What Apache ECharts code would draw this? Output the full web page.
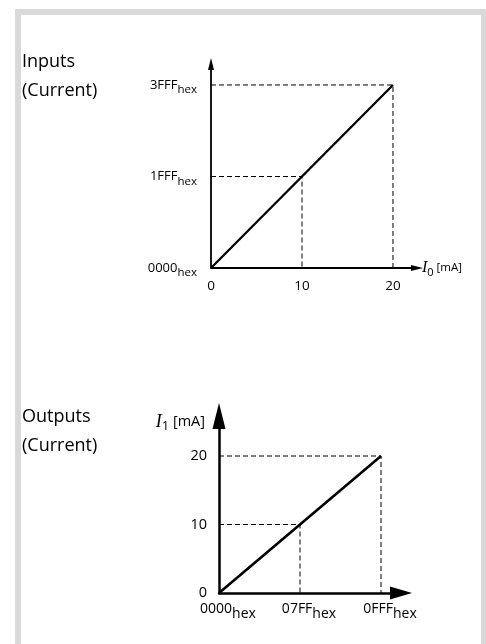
<!DOCTYPE html>
<html>
<head>
<meta charset="utf-8">
<script src="https://cdn.jsdelivr.net/npm/echarts@6/dist/echarts.min.js"></script>
<style>
  html, body { margin: 0; padding: 0; background: #fff; }
  #chart { width: 486px; height: 644px; }
</style>
</head>
<body>
<div id="chart"></div>
<script>
// Analog current inputs: 0–20 mA mapped to the code range 0000–3FFF hex
const inputCurrentMa = [0, 10, 20];
const inputCodeHex = ['0000', '1FFF', '3FFF'];
// Analog current outputs: code range 0000–0FFF hex mapped to 0–20 mA
const outputCodeHex = ['0000', '07FF', '0FFF'];
const outputCurrentMa = [0, 10, 20];

const inputCode = inputCodeHex.map(h => parseInt(h, 16));
const outputCode = outputCodeHex.map(h => parseInt(h, 16));

const hexOf = v => Math.round(v).toString(16).toUpperCase().padStart(4, '0');
const FONT = '"Open Sans", "Noto Sans", sans-serif';
const INK = '#000';
const FRAME = '#d9d9d9';

// Dashed guide from the y axis across to a point and down to the x axis
function guides(xs, ys) {
  const out = [];
  for (let i = 1; i < xs.length; i++) {
    out.push([[0, ys[i]], [xs[i], ys[i]], [xs[i], 0]]);
  }
  return out;
}

function hexRich(size, subSize, lh) {
  return {
    m: { fontFamily: FONT, fontSize: size, color: INK, lineHeight: lh, verticalAlign: 'middle' },
    s: { fontFamily: FONT, fontSize: subSize, color: INK, lineHeight: subSize + 2, verticalAlign: 'bottom' }
  };
}

const inGuides = guides(inputCurrentMa, inputCode);
const outGuides = guides(outputCode, outputCurrentMa);

const dashStyle = { color: INK, width: 1, type: [5, 3] };

const series = [];
inGuides.forEach(g => series.push({
  type: 'line', xAxisIndex: 0, yAxisIndex: 0, data: g, symbol: 'none',
  lineStyle: dashStyle, silent: true, z: 1
}));
outGuides.forEach(g => series.push({
  type: 'line', xAxisIndex: 1, yAxisIndex: 1, data: g, symbol: 'none',
  lineStyle: dashStyle, silent: true, z: 1
}));
series.push({
  type: 'line', xAxisIndex: 0, yAxisIndex: 0, symbol: 'none',
  data: inputCurrentMa.map((x, i) => [x, inputCode[i]]),
  lineStyle: { color: INK, width: 2.3 }, z: 3
});
series.push({
  type: 'line', xAxisIndex: 1, yAxisIndex: 1, symbol: 'none',
  data: outputCode.map((x, i) => [x, outputCurrentMa[i]]),
  lineStyle: { color: INK, width: 2.6 }, z: 3
});

const option = {
  animation: false,
  backgroundColor: '#fff',
  textStyle: { fontFamily: FONT },
  graphic: [
    // light grey page frame
    { type: 'rect', shape: { x: 15, y: 9, width: 471, height: 6 }, style: { fill: FRAME } },
    { type: 'rect', shape: { x: 15, y: 9, width: 6, height: 635 }, style: { fill: FRAME } },
    { type: 'rect', shape: { x: 481, y: 9, width: 5, height: 635 }, style: { fill: FRAME } },
    { type: 'text', left: 22, top: 47, style: { text: 'Inputs\n(Current)', font: '18px ' + FONT, fill: INK, lineHeight: 29 } },
    { type: 'text', left: 22, top: 402, style: { text: 'Outputs\n(Current)', font: '18px ' + FONT, fill: INK, lineHeight: 29 } }
  ],
  grid: [
    { left: 211, top: 64, width: 206, height: 204 },
    { left: 219, top: 416, width: 182, height: 177 }
  ],
  xAxis: [
    {
      gridIndex: 0, type: 'value', min: 0, max: 22.64,
      axisLine: { show: true, lineStyle: { color: INK, width: 1.8 }, symbol: ['none', 'triangle'], symbolSize: [6, 12] },
      axisTick: { show: false },
      splitLine: { show: false },
      axisLabel: { customValues: inputCurrentMa, color: INK, fontSize: 13.5, fontFamily: FONT, margin: 11 },
      name: '{i|I}{n|0}{u| [mA]}',
      nameLocation: 'end', nameGap: 5,
      nameTextStyle: {
        rich: {
          i: { fontFamily: '"Liberation Serif", serif', fontStyle: 'italic', fontSize: 16, color: INK, lineHeight: 20 },
          n: { fontFamily: FONT, fontSize: 11, color: INK, lineHeight: 12, verticalAlign: 'bottom' },
          u: { fontFamily: FONT, fontSize: 11.5, color: INK, lineHeight: 20 }
        }
      }
    },
    {
      gridIndex: 1, type: 'value', min: 0, max: 4600,
      axisLine: { show: true, lineStyle: { color: INK, width: 2.5 }, symbol: ['none', 'triangle'], symbolSize: [13, 22] },
      axisTick: { show: false },
      splitLine: { show: false },
      axisLabel: {
        customValues: outputCode, margin: 4, padding: [0, 0, 0, 18],
        formatter: v => `{m|${hexOf(v)}}{s|hex}`,
        rich: hexRich(14, 14, 24)
      }
    }
  ],
  yAxis: [
    {
      gridIndex: 0, type: 'value', min: 0, max: 18263,
      axisLine: { show: true, lineStyle: { color: INK, width: 1.8 }, symbol: ['none', 'triangle'], symbolSize: [6, 12] },
      axisTick: { show: false },
      splitLine: { show: false },
      axisLabel: {
        customValues: inputCode, margin: 14,
        formatter: v => `{m|${hexOf(v)}}{s|hex}`,
        rich: hexRich(13, 11.5, 22)
      }
    },
    {
      gridIndex: 1, type: 'value', min: 0, max: 25.84,
      axisLine: { show: true, lineStyle: { color: INK, width: 2.5 }, symbol: ['none', 'triangle'], symbolSize: [13, 26] },
      axisTick: { show: false },
      splitLine: { show: false },
      axisLabel: { customValues: outputCurrentMa, color: INK, fontSize: 14.5, fontFamily: FONT, margin: 12 },
      name: '{i|I}{n|1}{u| [mA]}',
      nameLocation: 'end', nameGap: -17,
      nameTextStyle: {
        align: 'right', padding: [0, 14, 0, 0],
        rich: {
          i: { fontFamily: '"Liberation Serif", serif', fontStyle: 'italic', fontSize: 18, color: INK, lineHeight: 22 },
          n: { fontFamily: FONT, fontSize: 13, color: INK, lineHeight: 14, verticalAlign: 'bottom' },
          u: { fontFamily: FONT, fontSize: 14.5, color: INK, lineHeight: 22 }
        }
      }
    }
  ],
  series
};

const chart = echarts.init(document.getElementById('chart'), null, { renderer: 'canvas' });
chart.setOption(option);
</script>
</body>
</html>
